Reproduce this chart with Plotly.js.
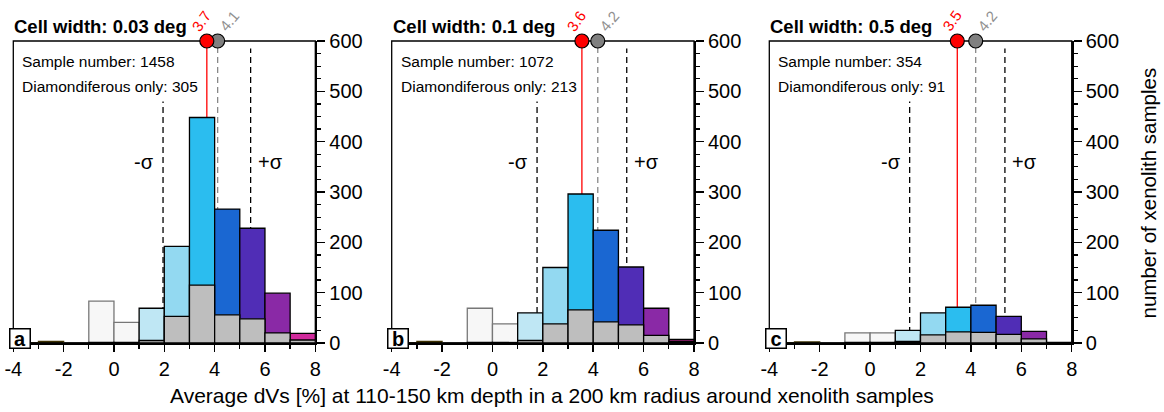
<!DOCTYPE html>
<html>
<head>
<meta charset="utf-8">
<script src="https://cdn.plot.ly/plotly-3.0.1.min.js"></script>
<style>html,body{margin:0;padding:0;background:#fff;}#chart{width:1164px;height:412px;}</style>
</head>
<body>
<div id="chart"></div>
<script>
// ---- data ----
const binCenters = [-3.5, -2.5, -1.5, -0.5, 0.5, 1.5, 2.5, 3.5, 4.5, 5.5, 6.5, 7.5];
const binColors  = ['#8a6d1a','#8a6d1a','#f7f7f7','#f7f7f7','#f7f7f7','#bfe7f4','#93d9f1','#2bbdef','#1a67d2','#502db6','#8a29a6','#d02a9c'];
const binEdgeColors = ['#3d3000','#3d3000','#777777','#777777','#777777','#000000','#000000','#000000','#000000','#000000','#000000','#000000'];

const panelIds   = ['a', 'b', 'c'];
const cellWidths = ['0.03', '0.1', '0.5'];
const sampleNumbers = [1458, 1072, 354];
const diamondNumbers = [305, 213, 91];

const countsA = [0, 3, 0, 83, 41, 69, 192, 448, 266, 228, 99, 19];
const countsB = [0, 3, 0, 69, 38, 60, 150, 296, 224, 151, 69, 7];
const countsC = [0, 2, 0, 20, 20, 25, 60, 71, 75, 53, 23, 1];
const diamA   = [0, 0, 0, 1, 1, 5, 53, 115, 56, 48, 20, 6];
const diamB   = [0, 0, 0, 1, 1, 5, 38, 66, 42, 36, 15, 3];
const diamC   = [0, 0, 0, 1, 1, 3, 16, 22, 21, 17, 8, 0];

const meanAll     = [3.69, 3.55, 3.46];
const meanAllText = ['3.7', '3.6', '3.5'];
const meanDiam    = [4.12, 4.18, 4.19];
const meanDiamText= ['4.1', '4.2', '4.2'];
const sigmaMinus  = [1.95, 1.77, 1.57];
const sigmaPlus   = [5.43, 5.33, 5.35];
const sigmaMinusTop = 480;
const sigmaPlusTop  = 585;

const xTickVals = [-4, -2, 0, 2, 4, 6, 8];
const yTickVals = [0, 100, 200, 300, 400, 500, 600];

const counts = [countsA, countsB, countsC];
const diams  = [diamA, diamB, diamC];

// ---- layout geometry ----
const W = 1164, H = 412;
const xDomPx = [[13.3, 315.3], [391.7, 694.0], [769.3, 1071.7]];
const yDom = [1 - 343 / H, 1 - 41 / H];
const FONT = 'Liberation Sans, Arial, Helvetica, sans-serif';

const data = [];
const layout = {
  width: W, height: H,
  margin: {l: 0, r: 0, t: 0, b: 0},
  paper_bgcolor: '#ffffff', plot_bgcolor: '#ffffff',
  showlegend: false,
  barmode: 'overlay',
  font: {family: FONT, color: '#000', size: 20},
  shapes: [], annotations: []
};

for (let i = 0; i < 3; i++) {
  const n = i === 0 ? '' : String(i + 1);
  const xa = 'x' + n, ya = 'y' + n;
  const ovId = String(i + 4);

  layout['xaxis' + n] = {
    domain: [xDomPx[i][0] / W, xDomPx[i][1] / W],
    range: [-4, 8], anchor: ya,
    tickmode: 'array', tickvals: xTickVals, ticktext: xTickVals.map(String),
    ticks: 'outside', ticklen: 7, tickwidth: 1.5, tickcolor: '#000',
    minor: {tickmode: 'linear', tick0: -4, dtick: 1, ticks: 'outside', ticklen: 4, tickwidth: 1.3, tickcolor: '#000', showgrid: false},
    showline: true, linewidth: 2, linecolor: '#000',
    showgrid: false, zeroline: false, fixedrange: true,
    tickfont: {size: 20, family: FONT, color: '#000'},
    layer: 'below traces'
  };
  layout['yaxis' + n] = {
    domain: yDom, range: [0, 600], anchor: xa, side: 'right',
    tickmode: 'array', tickvals: yTickVals,
    ticks: 'outside', ticklen: 8, tickwidth: 1.5, tickcolor: '#000',
    minor: {tickmode: 'linear', tick0: 0, dtick: 25, ticks: 'outside', ticklen: 4, tickwidth: 1.3, tickcolor: '#000', showgrid: false},
    showline: true, linewidth: 2, linecolor: '#000',
    showgrid: false, zeroline: false, fixedrange: true,
    tickfont: {size: 20, family: FONT, color: '#000'},
    layer: 'below traces'
  };
  // inner small ticks on left edge
  layout['yaxis' + ovId] = {
    overlaying: ya, anchor: xa, side: 'left', range: [0, 600],
    tickmode: 'array', tickvals: yTickVals.slice(1, 6),
    ticks: 'inside', ticklen: 2, tickwidth: 1.2, tickcolor: '#000',
    showticklabels: false, showline: false, showgrid: false, zeroline: false, fixedrange: true
  };

  // frame
  layout.shapes.push({type: 'rect', xref: xa + ' domain', yref: ya + ' domain', x0: 0, x1: 1, y0: 0, y1: 1,
    line: {color: '#000', width: 1.3}, fillcolor: 'rgba(0,0,0,0)', layer: 'below'});
  // sigma lines
  layout.shapes.push({type: 'line', xref: xa, yref: ya, x0: sigmaMinus[i], x1: sigmaMinus[i], y0: 0, y1: sigmaMinusTop,
    line: {color: '#000', width: 1.3, dash: '6px,4px'}, layer: 'below'});
  layout.shapes.push({type: 'line', xref: xa, yref: ya, x0: sigmaPlus[i], x1: sigmaPlus[i], y0: 0, y1: sigmaPlusTop,
    line: {color: '#000', width: 1.3, dash: '6px,4px'}, layer: 'below'});
  // mean lines
  layout.shapes.push({type: 'line', xref: xa, yref: ya, x0: meanDiam[i], x1: meanDiam[i], y0: 0, y1: 600,
    line: {color: '#888888', width: 1.3, dash: '6px,4px'}, layer: 'below'});
  layout.shapes.push({type: 'line', xref: xa, yref: ya, x0: meanAll[i], x1: meanAll[i], y0: 0, y1: 600,
    line: {color: '#ff0000', width: 1.3}, layer: 'below'});

  // bars: all samples
  data.push({
    type: 'bar', x: binCenters, y: counts[i], width: 1, xaxis: xa, yaxis: ya,
    marker: {color: binColors, line: {color: binEdgeColors, width: 1.3}},
    hoverinfo: 'skip'
  });
  // bars: diamondiferous only
  data.push({
    type: 'bar', x: binCenters, y: diams[i], width: 1, xaxis: xa, yaxis: ya,
    marker: {color: '#bebebe', line: {color: '#000', width: 1.3}},
    hoverinfo: 'skip'
  });
  // top markers
  data.push({
    type: 'scatter', mode: 'markers', x: [meanDiam[i]], y: [600], xaxis: xa, yaxis: ya, cliponaxis: false,
    marker: {size: 14, color: '#808080', line: {color: '#000', width: 1.2}}, hoverinfo: 'skip'
  });
  data.push({
    type: 'scatter', mode: 'markers', x: [meanAll[i]], y: [600], xaxis: xa, yaxis: ya, cliponaxis: false,
    marker: {size: 14, color: '#ff0000', line: {color: '#000', width: 1.2}}, hoverinfo: 'skip'
  });

  // annotations
  layout.annotations.push(
    {xref: xa + ' domain', yref: ya + ' domain', x: 0, y: 1, xanchor: 'left', yanchor: 'middle', yshift: 14, xshift: -1,
     text: '<b>Cell width: ' + cellWidths[i] + ' deg</b>', showarrow: false, font: {size: 18.5, family: FONT, color: '#000'}},
    {xref: xa + ' domain', yref: ya + ' domain', x: 0, y: 1, xanchor: 'left', yanchor: 'middle', yshift: -21, xshift: 7,
     text: 'Sample number: ' + sampleNumbers[i], showarrow: false, font: {size: 15.5, family: FONT, color: '#000'}},
    {xref: xa + ' domain', yref: ya + ' domain', x: 0, y: 1, xanchor: 'left', yanchor: 'middle', yshift: -46, xshift: 7,
     text: 'Diamondiferous only: ' + diamondNumbers[i], showarrow: false, font: {size: 15.5, family: FONT, color: '#000'}},
    {xref: xa, yref: ya, x: sigmaMinus[i], y: 360, xshift: -19, text: '-σ', showarrow: false,
     font: {size: 20, family: FONT, color: '#000'}},
    {xref: xa, yref: ya, x: sigmaPlus[i], y: 360, xshift: 20, text: '+σ', showarrow: false,
     font: {size: 20, family: FONT, color: '#000'}},
    {xref: xa, yref: ya, x: meanAll[i], y: 600, xshift: -5, yshift: 20, textangle: -55, text: meanAllText[i], showarrow: false,
     font: {size: 15, family: FONT, color: '#ff0000'}},
    {xref: xa, yref: ya, x: meanDiam[i], y: 600, xshift: 12, yshift: 20, textangle: -50, text: meanDiamText[i], showarrow: false,
     font: {size: 15, family: FONT, color: '#909090'}},
    {xref: xa + ' domain', yref: ya + ' domain', x: 0, y: 0, xshift: 6.3, yshift: 5, xanchor: 'center', yanchor: 'middle',
     text: '<b>' + panelIds[i] + '</b>', showarrow: false, width: 19, height: 18, borderpad: 0,
     bordercolor: '#000', borderwidth: 1.5, bgcolor: '#ffffff', font: {size: 20, family: FONT, color: '#000'}}
  );
}

layout.annotations.push(
  {xref: 'paper', yref: 'paper', x: 551.5 / W, y: 1 - 395 / H, xanchor: 'center', yanchor: 'middle', showarrow: false,
   text: 'Average dVs [%] at 110-150 km depth in a 200 km radius around xenolith samples', font: {size: 21, family: FONT, color: '#000'}},
  {xref: 'paper', yref: 'paper', x: 1148 / W, y: 1 - 193.5 / H, xanchor: 'center', yanchor: 'middle', showarrow: false, textangle: -90,
   text: 'number of xenolith samples', font: {size: 20.5, family: FONT, color: '#000'}}
);

Plotly.newPlot('chart', data, layout, {staticPlot: true, displayModeBar: false});
</script>
</body>
</html>
